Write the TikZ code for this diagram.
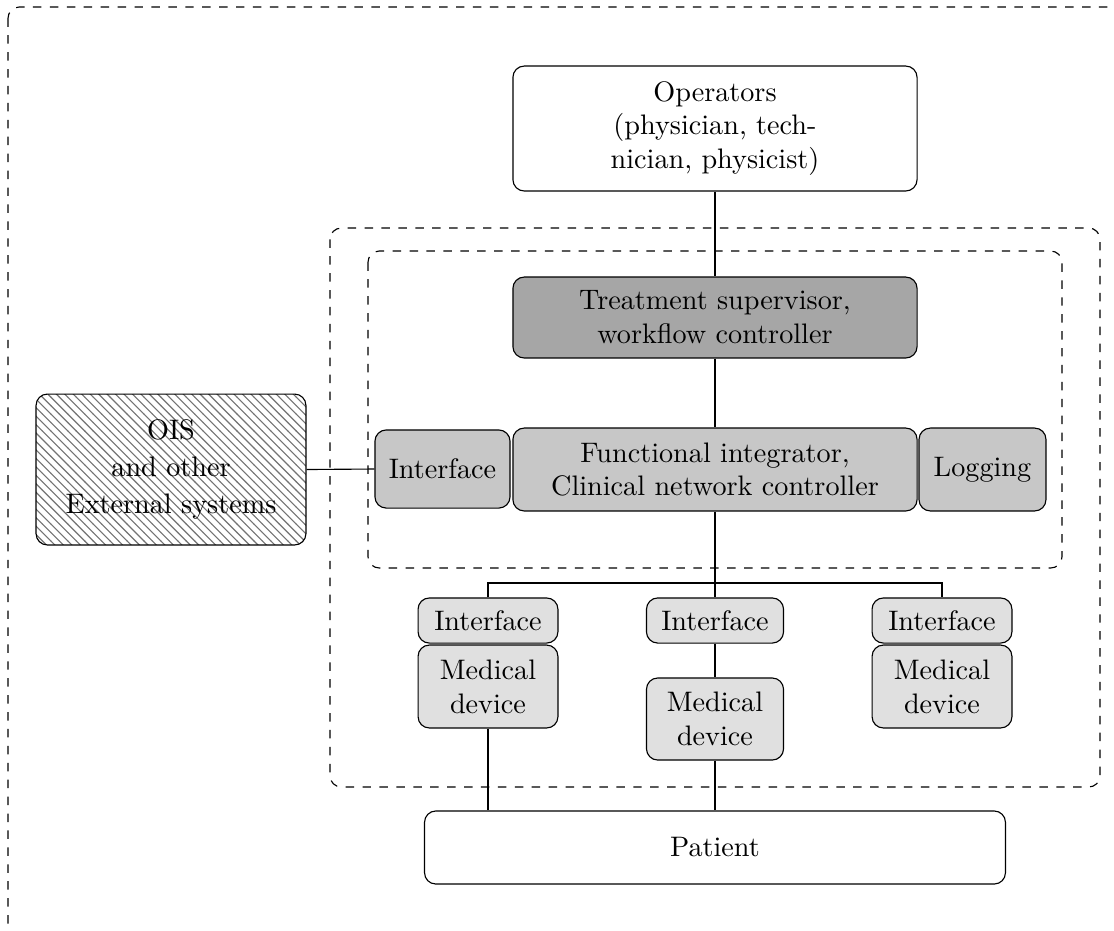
\documentclass[tikz,border=0pt]{standalone}
\usetikzlibrary{patterns}
\begin{document}
\begin{tikzpicture}[x=0.3546pt,y=-0.3546pt,
  box/.style={draw, rounded corners=4pt, inner sep=0pt, align=center, font=\normalsize},
  lightbox/.style={box, fill=black!12},
  midbox/.style={box, fill=black!22},
  darkbox/.style={box, fill=black!35},
  plainbox/.style={box, fill=white},
  region/.style={draw, dashed, rounded corners=4pt},
  link/.style={draw}]
\useasboundingbox (0,0) rectangle (1114,930);
\clip (0,0) rectangle (1114,930);

% enclosing regions
\draw[region] (8,7) rectangle (1300,936);
\draw[region] (330,228) rectangle (1100,787);
\draw[region] (368,251) rectangle (1062,568);

% operators and supervisory layer
\node[plainbox, minimum width=143.3pt, minimum height=44.3pt] (ops) at (715,128.5)
  {Operators\\(physician, tech-\\nician, physicist)};
\node[darkbox, minimum width=143.3pt, minimum height=28.7pt] (treat) at (715,317.5)
  {Treatment supervisor,\\workflow controller};

% integration layer
\node[midbox, minimum width=143.3pt, minimum height=29.4pt] (func) at (715,469.5)
  {Functional integrator,\\Clinical network controller};
\node[midbox, minimum width=47.9pt, minimum height=27.7pt] (ifc) at (442.5,469) {Interface};
\node[midbox, minimum width=45pt, minimum height=29.4pt] (log) at (982.5,469.5) {Logging};

% external systems
\node[box, pattern=north west lines, pattern color=black!55, minimum width=95.7pt, minimum height=53.5pt] (ois) at (171,469.5)
  {OIS\\[1pt]and other\\[1pt]External systems};

% devices
\node[lightbox, minimum width=49.6pt, minimum height=16pt] (intL) at (488,620.5) {Interface};
\node[lightbox, minimum width=49.6pt, minimum height=29.4pt] (medL) at (488,686.5) {Medical\\device};
\node[lightbox, minimum width=48.6pt, minimum height=16pt] (intM) at (715,620.5) {Interface};
\node[lightbox, minimum width=48.6pt, minimum height=29.1pt] (medM) at (715,719) {Medical\\device};
\node[lightbox, minimum width=49.6pt, minimum height=16pt] (intR) at (942,620.5) {Interface};
\node[lightbox, minimum width=49.6pt, minimum height=29.4pt] (medR) at (942,686.5) {Medical\\device};

% patient
\node[plainbox, minimum width=206pt, minimum height=25.9pt] (pat) at (715,847.5) {Patient};

% connectors
\coordinate (bus) at (715,583);
\draw[link] (ops.south) -- (treat.north);
\draw[link] (treat.south) -- (func.north);
\draw[link] (ois.east) -- (ifc.west);
\draw[link] (func.south) -- (intM.north);
\draw[link] (intL.north) |- (bus) -| (intR.north);
\draw[link] (intM.south) -- (medM.north);
\draw[link] (medM.south) -- (pat.north);
\draw[link] (medL.south) -- (medL.south |- pat.north);
\end{tikzpicture}
\end{document}
